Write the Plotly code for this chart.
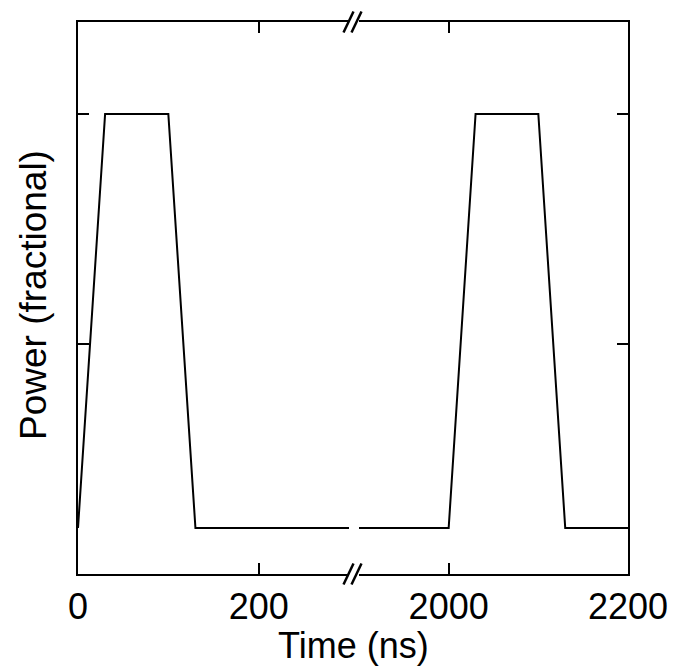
import plotly.graph_objects as go

# Data (time in ns, fractional power)
t_left = [0, 30, 100, 130, 300]
p_left = [0.1, 1.0, 1.0, 0.1, 0.1]
t_right = [1900, 2000, 2030, 2100, 2130, 2200]
p_right = [0.1, 0.1, 1.0, 1.0, 0.1, 0.1]

x_ticks_left = [0, 200]
x_ticks_right = [2000, 2200]
y_ticks = [0.5, 1.0]

W, H = 673, 666
L, R, T, B = 78, 45, 22, 92
PW, PH = W - L - R, H - T - B

left_end_px = 349
right_start_px = 359
d1 = (left_end_px - L) / PW
d2 = (right_start_px - L) / PW

FONT = "Liberation Sans, Arial, sans-serif"
line_style = dict(color="black", width=2)

fig = go.Figure()
fig.add_trace(go.Scatter(x=t_left, y=p_left, mode="lines", line=line_style,
                         xaxis="x", yaxis="y", showlegend=False, cliponaxis=False))
fig.add_trace(go.Scatter(x=t_right, y=p_right, mode="lines", line=line_style,
                         xaxis="x2", yaxis="y2", showlegend=False, cliponaxis=False))

axis_common = dict(showline=True, linecolor="black", linewidth=2, ticks="inside",
                   ticklen=11, tickwidth=2, tickcolor="black", showgrid=False,
                   zeroline=False, automargin=False,
                   tickfont=dict(family=FONT, size=36, color="black"))

fig.update_layout(
    width=W, height=H,
    margin=dict(l=L, r=R, t=T, b=B, autoexpand=False),
    paper_bgcolor="white", plot_bgcolor="white",
    xaxis=dict(domain=[0, d1], range=[0, 300], tickvals=x_ticks_left,
               anchor="y", mirror="ticks", **axis_common),
    xaxis2=dict(domain=[d2, 1], range=[1900, 2200], tickvals=x_ticks_right,
                anchor="y2", mirror="ticks", **axis_common),
    yaxis=dict(domain=[0, 1], range=[0, 1.2], tickvals=y_ticks, showticklabels=False,
               anchor="x", side="left", **axis_common),
    yaxis2=dict(domain=[0, 1], range=[0, 1.2], tickvals=y_ticks, showticklabels=False,
                anchor="x2", side="right", **axis_common),
)

# Axis break marks "//" on top and bottom axes
def px2paper(px, py):
    return (px - L) / PW, (H - B - py) / PH

shapes = []
for axis_y in (T, H - B):
    for cx in (348.5, 356.5):
        x0, y0 = px2paper(cx - 5, axis_y + 10.5)
        x1, y1 = px2paper(cx + 5, axis_y - 10.5)
        shapes.append(dict(type="line", xref="paper", yref="paper",
                           x0=x0, y0=y0, x1=x1, y1=y1,
                           line=dict(color="black", width=2.5)))
fig.update_layout(shapes=shapes)

# Axis titles
tx, ty = px2paper(353, 645)
fig.add_annotation(text="Time (ns)", xref="paper", yref="paper", x=tx, y=ty,
                   xanchor="center", yanchor="middle", showarrow=False,
                   font=dict(family=FONT, size=36, color="black"))
yx, yy = px2paper(33, 295)
fig.add_annotation(text="Power (fractional)", xref="paper", yref="paper", x=yx, y=yy,
                   xanchor="center", yanchor="middle", textangle=-90, showarrow=False,
                   font=dict(family=FONT, size=37, color="black"))

fig.write_html("out.html")
